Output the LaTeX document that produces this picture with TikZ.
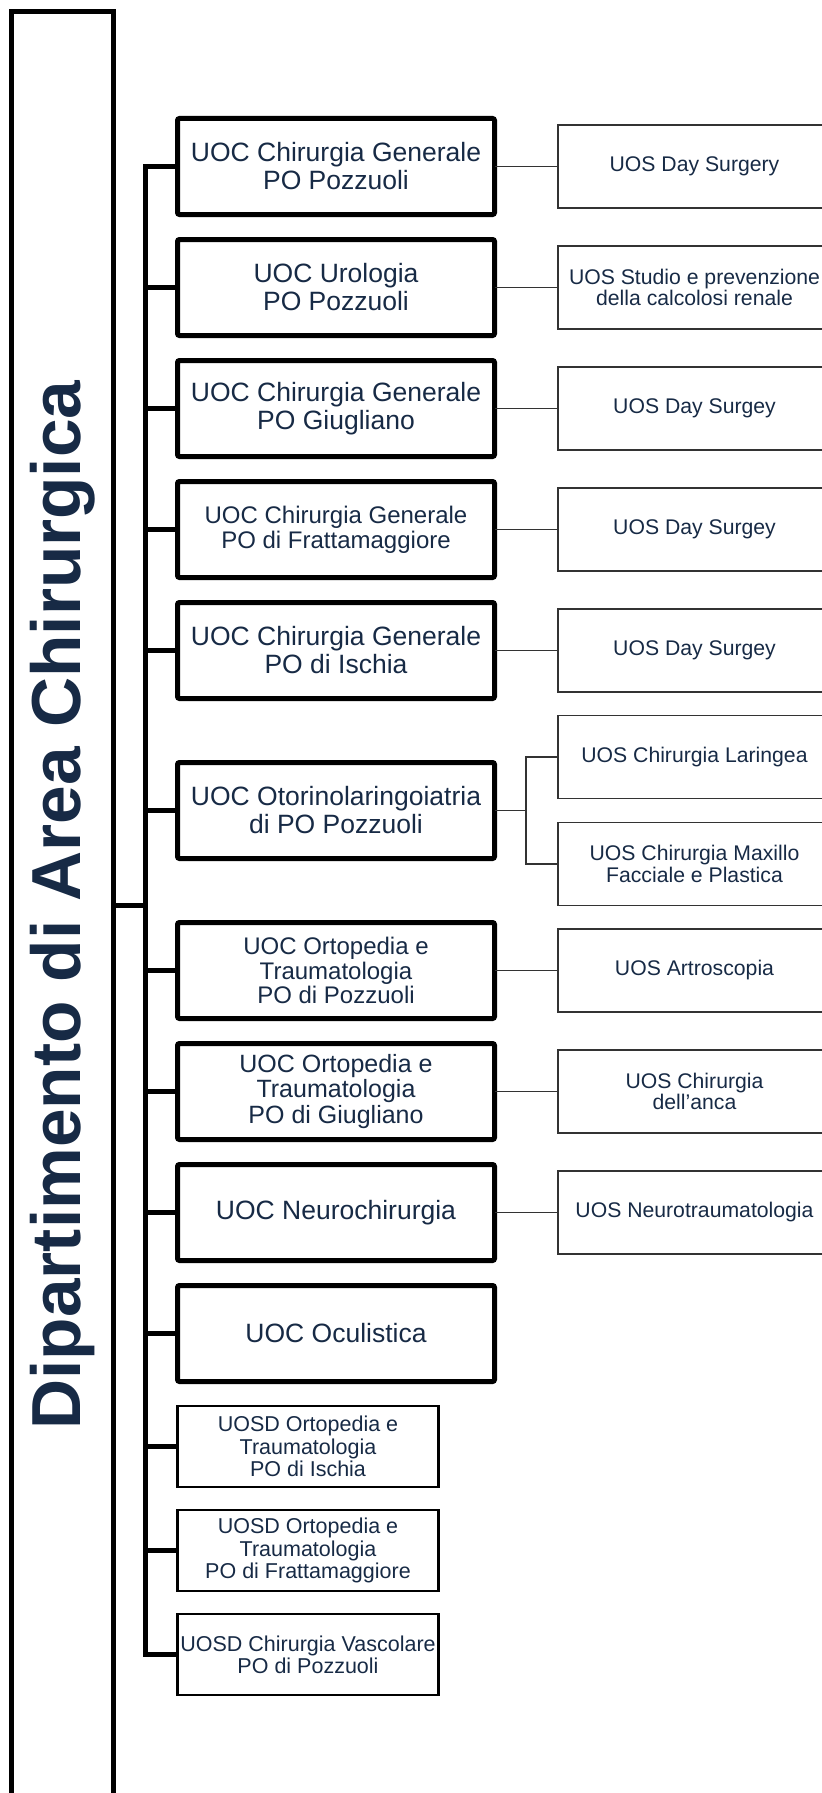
\documentclass[tikz,border=0pt]{standalone}
\usepackage{fontspec}
\setmainfont{Liberation Sans}
\usepackage{tikz}
\usetikzlibrary{shapes,arrows}
\usetikzlibrary{positioning}
\definecolor{deptblue}{HTML}{172A45}
\tikzstyle{uoc} = [draw, rectangle, line width=2.5pt, rounded corners=1pt,
minimum width=158.5pt, minimum height=48pt, inner sep=0pt, outer sep=0pt,
align=center, text=deptblue, font=\fontsize{13.25}{14}\selectfont]
\tikzstyle{uosd} = [draw, rectangle, line width=1.2pt, minimum width=130.5pt,
minimum height=40.5pt, inner sep=0pt, outer sep=0pt, align=center,
text=deptblue, font=\fontsize{10.75}{11.2}\selectfont]
\tikzstyle{uos} = [draw=black!80, rectangle, line width=0.7pt, minimum width=136.5pt,
minimum height=41.5pt, inner sep=0pt, outer sep=0pt, align=center,
text=deptblue, font=\fontsize{10.6}{10.9}\selectfont]
\tikzstyle{line} = [draw, line width=0.7pt, color=black!80]
\tikzstyle{bus} = [draw, line width=2.5pt, color=black]

\begin{document}
\begin{tikzpicture}[auto,
	dept/.style={draw, rectangle, line width=2.5pt, minimum width=51pt,
		minimum height=893.5pt, inner sep=0pt, outer sep=0pt, text=deptblue,
		font=\fontsize{34.7}{36}\selectfont\bfseries},
	small/.style={font=\fontsize{12}{12.4}\selectfont}]
	\useasboundingbox (0,0) rectangle (411pt,-896.5pt);
	\node[dept] (dept) at (31.25pt,-452.5pt) {\rotatebox{90}{Dipartimento di Area Chirurgica}};
	%% UOC
	\node[uoc] (o1) at (168pt,-83.25pt) {UOC Chirurgia Generale\\PO Pozzuoli};
	\node[uoc, below=12.5pt of o1] (o2) {UOC Urologia\\PO Pozzuoli};
	\node[uoc, below=12.5pt of o2] (o3) {UOC Chirurgia Generale\\PO Giugliano};
	\node[uoc, small, below=12.5pt of o3] (o4) {UOC Chirurgia Generale\\PO di Frattamaggiore};
	\node[uoc, below=12.5pt of o4] (o5) {UOC Chirurgia Generale\\PO di Ischia};
	\node[uoc, below=32pt of o5] (o6) {UOC Otorinolaringoiatria\\di PO Pozzuoli};
	\node[uoc, small, below=32pt of o6] (o7) {UOC Ortopedia e\\Traumatologia\\PO di Pozzuoli};
	\node[uoc, below=12.5pt of o7, font=\fontsize{12.5}{12.9}\selectfont] (o8) {UOC Ortopedia e\\Traumatologia\\PO di Giugliano};
	\node[uoc, below=12.5pt of o8] (o9) {UOC Neurochirurgia};
	\node[uoc, below=12.5pt of o9] (o10) {UOC Oculistica};
	%% UOSD
	\node[uosd, below right=12.25pt and 0pt of o10.south west] (d1) {UOSD Ortopedia e\\Traumatologia\\PO di Ischia};
	\node[uosd, below=11.5pt of d1] (d2) {UOSD Ortopedia e\\Traumatologia\\PO di Frattamaggiore};
	\node[uosd, below=11.5pt of d2] (d3) {UOSD Chirurgia Vascolare\\PO di Pozzuoli};
	%% UOS
	\node[uos, right=31.75pt of o1] (s1) {UOS Day Surgery};
	\node[uos, right=31.75pt of o2] (s2) {UOS Studio e prevenzione\\della calcolosi renale};
	\node[uos, right=31.75pt of o3] (s3) {UOS Day Surgey};
	\node[uos, right=31.75pt of o4] (s4) {UOS Day Surgey};
	\node[uos, right=31.75pt of o5] (s5) {UOS Day Surgey};
	\node[uos, above right=6pt and 31.75pt of o6.east] (s6a) {UOS Chirurgia Laringea};
	\node[uos, below right=6pt and 31.75pt of o6.east] (s6b) {UOS Chirurgia Maxillo\\Facciale e Plastica};
	\node[uos, right=31.75pt of o7] (s7) {UOS Artroscopia};
	\node[uos, right=31.75pt of o8] (s8) {UOS Chirurgia\\dell'anca};
	\node[uos, right=31.75pt of o9] (s9) {UOS Neurotraumatologia};
	%% Bus
	\coordinate[left=16pt of o1.west] (b1);
	\coordinate[left=16pt of d3.west] (b2);
	\path[bus] (o1.west) -- (b1) -- (b2) -- (d3.west);
	\foreach \n in {o2,o3,o4,o5,o6,o7,o8,o9,o10,d1,d2}
		\path[bus] (\n.west) -- (\n.west -| b1);
	\path[bus] (dept.east) -- (dept.east -| b1);
	%% Links
	\foreach \a/\b in {o1/s1,o2/s2,o3/s3,o4/s4,o5/s5,o7/s7,o8/s8,o9/s9}
		\path[line] (\a.east) -- (\b.west);
	\coordinate[right=15.75pt of o6.east] (f6);
	\path[line] (o6.east) -- (f6) |- (s6a.west);
	\path[line] (f6) |- (s6b.west);
\end{tikzpicture}
\end{document}
